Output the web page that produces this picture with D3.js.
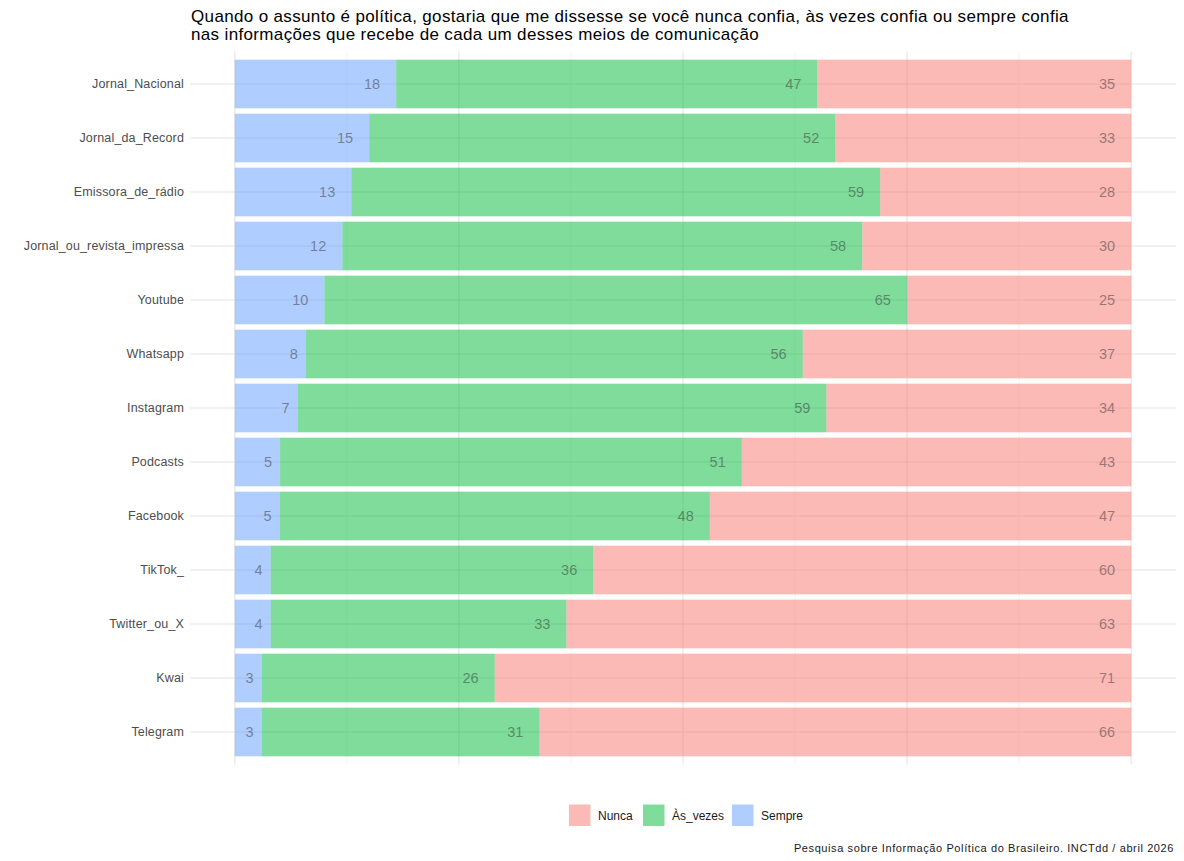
<!DOCTYPE html>
<html>
<head>
<meta charset="utf-8">
<script src="https://cdn.jsdelivr.net/npm/d3@7"></script>
<style>
  body { margin: 0; background: #fff; }
  svg { display: block; font-family: "Liberation Sans", Arial, sans-serif; }
</style>
</head>
<body>
<svg id="chart" width="1184" height="861"></svg>
<script>
const categories = ["Jornal_Nacional","Jornal_da_Record","Emissora_de_rádio","Jornal_ou_revista_impressa","Youtube","Whatsapp","Instagram","Podcasts","Facebook","TikTok_","Twitter_ou_X","Kwai","Telegram"];
const sempre  = [18,15,13,12,10,8,7,5,5,4,4,3,3];
const asVezes = [47,52,59,58,65,56,59,51,48,36,33,26,31];
const nunca   = [35,33,28,30,25,37,34,43,47,60,63,71,66];
const seriesKeys = ["Sempre","Às_vezes","Nunca"];
const legendKeys = ["Nunca","Às_vezes","Sempre"];
const xTicksMajor = [0,0.25,0.5,0.75,1];
const xTicksMinor = [0.125,0.375,0.625,0.875];
const titleLines = ["Quando o assunto é política, gostaria que me dissesse se você nunca confia, às vezes confia ou sempre confia","nas informações que recebe de cada um desses meios de comunicação"];
const caption = "Pesquisa sobre Informação Política do Brasileiro. INCTdd / abril 2026";

const colors = {"Nunca":"#F8766D","Às_vezes":"#00BA38","Sempre":"#619CFF"};

const rows = categories.map((c,i)=>({cat:c,"Sempre":sempre[i],"Às_vezes":asVezes[i],"Nunca":nunca[i]}));
const stacked = d3.stack().keys(seriesKeys).offset(d3.stackOffsetExpand)(rows);

const svg = d3.select("#chart");
const panel = {left:190, right:1176, top:51.6, bottom:764.4};

const x = d3.scaleLinear().domain([-0.05,1.05]).range([panel.left, panel.right]);
const y = d3.scaleBand().domain(categories).range([panel.top, panel.bottom]).paddingInner(0.1).paddingOuter(0.15);

// grid
const g = svg.append("g");
g.selectAll(".minor").data(xTicksMinor).join("line")
  .attr("x1",d=>x(d)).attr("x2",d=>x(d)).attr("y1",panel.top).attr("y2",panel.bottom)
  .attr("stroke","#ececec").attr("stroke-width",0.6);
g.selectAll(".major").data(xTicksMajor).join("line")
  .attr("x1",d=>x(d)).attr("x2",d=>x(d)).attr("y1",panel.top).attr("y2",panel.bottom)
  .attr("stroke","#e4e4e4").attr("stroke-width",1.1);
g.selectAll(".hgrid").data(categories).join("line")
  .attr("x1",panel.left).attr("x2",panel.right)
  .attr("y1",d=>y(d)+y.bandwidth()/2).attr("y2",d=>y(d)+y.bandwidth()/2)
  .attr("stroke","#e4e4e4").attr("stroke-width",1.1);

// bars
const layers = svg.append("g").selectAll("g").data(stacked).join("g")
  .attr("fill",d=>colors[d.key]).attr("fill-opacity",0.5);
layers.selectAll("rect").data(d=>d).join("rect")
  .attr("x",d=>x(d[0])).attr("width",d=>x(d[1])-x(d[0]))
  .attr("y",d=>y(d.data.cat)).attr("height",y.bandwidth());

// labels (hjust = 2 relative to segment end)
const lab = svg.append("g");
stacked.forEach(layer=>{
  layer.forEach(d=>{
    const t = lab.append("text")
      .attr("y", y(d.data.cat)+y.bandwidth()/2)
      .attr("dy","0.36em")
      .attr("font-size","14.5px")
      .attr("fill","#333").attr("fill-opacity",0.5)
      .text(d.data[layer.key]);
    const w = t.node().getComputedTextLength();
    t.attr("x", x(d[1]) - 2*w);
  });
});

// y axis labels
svg.append("g").selectAll("text").data(categories).join("text")
  .attr("x",184).attr("y",d=>y(d)+y.bandwidth()/2).attr("dy","0.35em")
  .attr("text-anchor","end").attr("font-size","12.5px").attr("letter-spacing","0.15px")
  .attr("fill","#4d4d4d")
  .text(d=>d);

// title
svg.append("g").selectAll("text").data(titleLines).join("text")
  .attr("x",191).attr("y",(d,i)=>21.5+i*18.5)
  .attr("font-size","17px").attr("letter-spacing","0.35px").attr("fill","#000")
  .text(d=>d);

// legend
const legX = [569,643,732];
const lg = svg.append("g").selectAll("g").data(legendKeys).join("g")
  .attr("transform",(d,i)=>`translate(${legX[i]},804.5)`);
lg.append("rect").attr("width",21.5).attr("height",21.5)
  .attr("fill",d=>colors[d]).attr("fill-opacity",0.5);
lg.append("text").attr("x",29).attr("y",11).attr("dy","0.35em")
  .attr("font-size","12px").attr("fill","#1a1a1a").text(d=>d);

// caption
svg.append("text").attr("x",1174).attr("y",852).attr("text-anchor","end")
  .attr("font-size","11px").attr("letter-spacing","0.6px").attr("fill","#1a1a1a").text(caption);
</script>
</body>
</html>
